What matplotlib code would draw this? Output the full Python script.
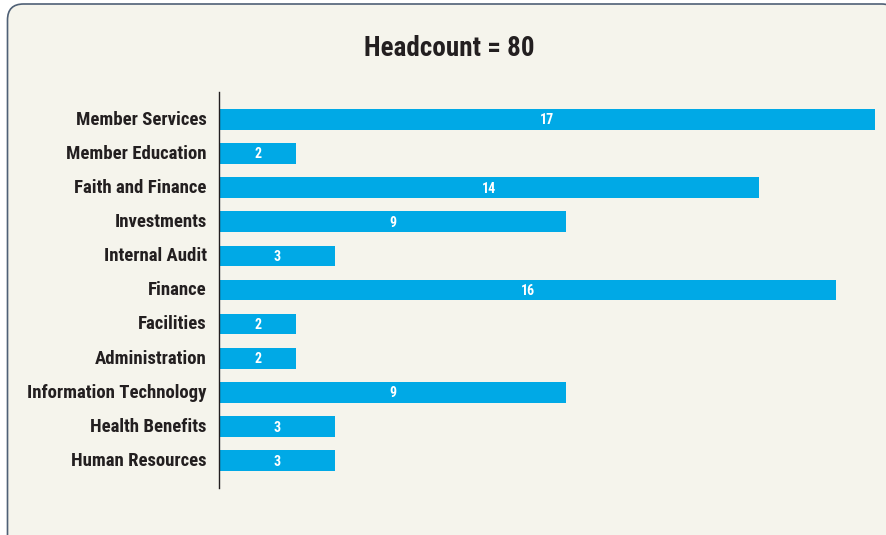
import matplotlib
matplotlib.use("Agg")
import matplotlib.pyplot as plt
from matplotlib.patches import FancyBboxPatch
from matplotlib import font_manager

categories = ["Member Services", "Member Education", "Faith and Finance", "Investments",
              "Internal Audit", "Finance", "Facilities", "Administration",
              "Information Technology", "Health Benefits", "Human Resources"]
headcount = [17, 2, 14, 9, 3, 16, 2, 2, 9, 3, 3]
title = "Headcount = 80"

names = {f.name for f in font_manager.fontManager.ttflist}
family = ["Roboto Condensed", "Liberation Sans Narrow", "DejaVu Sans"]
family = [f for f in family if f in names] or ["DejaVu Sans"]

W, H = 886, 535
fig = plt.figure(figsize=(W / 100, H / 100), dpi=100)
fig.patch.set_facecolor("white")

# rounded panel behind the chart
panel = FancyBboxPatch((7.5 / W, -30 / H), 890 / W, (H - 4 + 30) / H,
                       boxstyle="round,pad=0,rounding_size=0.018",
                       transform=fig.transFigure, facecolor="#f5f4ec",
                       edgecolor="#4f6076", linewidth=1.2, zorder=-5,
                       mutation_aspect=W / H)
fig.patches.append(panel)

ax = fig.add_axes([219 / W, (H - 488) / H, (886 - 219) / W, (488 - 92) / H])
ax.set_zorder(2)
ax.set_facecolor("none")
px_per_unit = 655.5 / 17
ax.set_xlim(0, (886 - 219) / px_per_unit)
ax.set_ylim(10.8, -0.8)

y = list(range(len(categories)))
ax.barh(y, headcount, height=0.6, color="#00a9e6", zorder=2)
for yi, v in zip(y, headcount):
    ax.text(v / 2, yi + 0.03, str(v), ha="center", va="center", color="white",
            fontsize=10, fontweight="bold", family=family, zorder=3)

ax.set_yticks([yi - 0.05 for yi in y])
ax.set_yticklabels(categories, fontsize=13.5, fontweight="bold", family=family,
                   color="#231f20")
ax.tick_params(axis="y", length=0, pad=9)
ax.set_xticks([])
for s in ["top", "right", "bottom"]:
    ax.spines[s].set_visible(False)
ax.spines["left"].set_color("#231f20")
ax.spines["left"].set_linewidth(1.0)

fig.text(449 / W, 1 - 49 / H, title, ha="center", va="center", fontsize=19.5,
         fontweight="bold", family=family, color="#231f20", zorder=3)

fig.savefig("out.png", dpi=100)
